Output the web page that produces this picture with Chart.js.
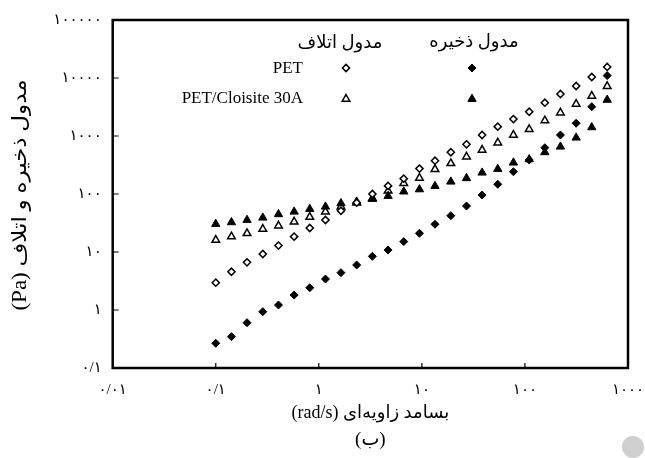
<!DOCTYPE html>
<html><head><meta charset="utf-8">
<script src="https://cdn.jsdelivr.net/npm/chart.js@4/dist/chart.umd.min.js"></script>
<style>html,body{margin:0;padding:0;background:#fff}#c{display:block}</style>
</head><body>
<canvas id="c" width="645" height="458"></canvas>
<script>
// angular frequency (rad/s)
const freq = [0.1, 0.142, 0.201, 0.286, 0.406, 0.576, 0.817, 1.16, 1.64, 2.33, 3.31, 4.7, 6.67, 9.47, 13.4, 19.1, 27.1, 38.4, 54.5, 77.3, 110, 156, 221, 314, 445, 628];
// PET storage modulus (filled diamonds)
const petStorage = [0.267, 0.347, 0.604, 0.935, 1.22, 1.81, 2.42, 3.42, 4.40, 5.97, 8.43, 10.8, 15.1, 21.0, 30.1, 42.3, 62.1, 96.1, 147, 242, 386, 628, 1040, 1660, 3200, 11000];
// PET loss modulus (open diamonds)
const petLoss = [2.96, 4.57, 6.64, 9.24, 12.9, 18.4, 25.9, 35.6, 51.5, 70.8, 100, 138, 184, 274, 375, 524, 719, 1040, 1450, 1960, 2620, 3750, 5300, 7280, 10400, 15500];
// PET/Cloisite 30A storage modulus (filled triangles)
const compStorage = [30.4, 32.5, 35.6, 39.0, 44.7, 49.5, 55.1, 60.4, 69.2, 73.6, 82.0, 92.4, 110, 120, 137, 163, 187, 233, 270, 347, 396, 524, 654, 935, 1410, 4200];
// PET/Cloisite 30A loss modulus (open triangles)
const compLoss = [16.1, 18.4, 21.0, 24.9, 28.4, 33.3, 40.1, 49.5, 60.4, 70.8, 84.3, 113, 153, 189, 267, 338, 440, 574, 766, 1040, 1310, 1840, 2520, 3560, 4900, 7200];

const xTicks = [0.01, 0.1, 1, 10, 100, 1000];
const xTickLabels = ['۰/۰۱', '۰/۱', '۱', '۱۰', '۱۰۰', '۱۰۰۰'];
const yTicks = [0.1, 1, 10, 100, 1000, 10000, 100000];
const yTickLabels = ['۰/۱', '۱', '۱۰', '۱۰۰', '۱۰۰۰', '۱۰۰۰۰', '۱۰۰۰۰۰'];
const seriesNames = ['PET', 'PET/Cloisite 30A'];
const legendHeads = ['مدول ذخیره', 'مدول اتلاف'];
const xTitle = 'بسامد زاویه‌ای (rad/s)';
const yTitle = 'مدول ذخیره و اتلاف (Pa)';
const caption = '(ب)';

const FONT = "'Liberation Serif', 'DejaVu Sans', serif";
const toXY = arr => arr.map((v, i) => ({x: freq[i], y: v}));

const decor = {
  id: 'decor',
  afterDraw(chart) {
    const {ctx, chartArea: a, scales: {x, y}} = chart;
    const H = Chart.helpers;
    ctx.save();
    // frame
    ctx.strokeStyle = '#000';
    ctx.lineWidth = 2.5;
    ctx.strokeRect(a.left, a.top, a.right - a.left, a.bottom - a.top);
    // inward ticks
    ctx.lineWidth = 1.2;
    ctx.beginPath();
    xTicks.slice(1, -1).forEach(v => {
      const px = x.getPixelForValue(v);
      ctx.moveTo(px, a.bottom); ctx.lineTo(px, a.bottom - 5);
    });
    yTicks.slice(1, -1).forEach(v => {
      const py = y.getPixelForValue(v);
      ctx.moveTo(a.left, py); ctx.lineTo(a.left + 6, py);
    });
    ctx.stroke();

    // titles
    ctx.fillStyle = '#000';
    ctx.direction = 'rtl';
    ctx.textAlign = 'center';
    ctx.textBaseline = 'middle';
    ctx.font = '18px ' + FONT;
    const cx = (a.left + a.right) / 2;
    ctx.fillText(xTitle, cx, 413);
    ctx.font = '19px ' + FONT;
    ctx.fillText(caption, cx, 440);
    ctx.save();
    ctx.translate(21, (a.top + a.bottom) / 2 + 1);
    ctx.rotate(-Math.PI / 2);
    ctx.scale(1.15, 1);
    ctx.font = '20px ' + FONT;
    ctx.fillText(yTitle, 0, 0);
    ctx.restore();

    // legend
    const colS = 472, colL = 346;
    ctx.font = '18px ' + FONT;
    ctx.fillText(legendHeads[0], colS + 2, 42);
    ctx.fillText(legendHeads[1], colL - 6, 43);
    ctx.direction = 'ltr';
    ctx.textAlign = 'right';
    ctx.font = '17px ' + FONT;
    ctx.fillText(seriesNames[0], 303, 69);
    ctx.fillText(seriesNames[1], 303, 99);
    const ds = chart.data.datasets;
    const mk = (d, px, py) => {
      ctx.fillStyle = d.pointBackgroundColor;
      ctx.strokeStyle = d.pointBorderColor;
      ctx.lineWidth = d.pointBorderWidth;
      H.drawPoint(ctx, {pointStyle: d.pointStyle, radius: d.pointRadius, borderWidth: d.pointBorderWidth, rotation: 0}, px, py);
    };
    mk(ds[1], colL, 68);
    mk(ds[0], colS, 68);
    mk(ds[3], colL, 99);
    mk(ds[2], colS, 99);

    // grey dot bottom-right
    ctx.fillStyle = '#cfcfcf';
    ctx.beginPath();
    ctx.arc(633, 447, 11, 0, Math.PI * 2);
    ctx.fill();
    ctx.restore();
  }
};

new Chart(document.getElementById('c'), {
  type: 'scatter',
  data: {
    datasets: [
      {label: 'PET storage', data: toXY(petStorage), pointStyle: 'rectRot', pointRadius: 4, pointBackgroundColor: '#000', pointBorderColor: '#000', pointBorderWidth: 1},
      {label: 'PET loss', data: toXY(petLoss), pointStyle: 'rectRot', pointRadius: 3.6, pointBackgroundColor: '#fff', pointBorderColor: '#000', pointBorderWidth: 1.5},
      {label: 'PET/C storage', data: toXY(compStorage), pointStyle: 'triangle', pointRadius: 4.8, pointBackgroundColor: '#000', pointBorderColor: '#000', pointBorderWidth: 1},
      {label: 'PET/C loss', data: toXY(compLoss), pointStyle: 'triangle', pointRadius: 4.4, pointBackgroundColor: '#fff', pointBorderColor: '#000', pointBorderWidth: 1.5}
    ]
  },
  options: {
    responsive: false,
    animation: false,
    events: [],
    layout: {padding: {left: 0, right: 17, top: 20, bottom: 0}},
    plugins: {legend: {display: false}, tooltip: {enabled: false}},
    scales: {
      x: {
        type: 'logarithmic', min: 0.01, max: 1000,
        afterBuildTicks: s => { s.ticks = xTicks.map(v => ({value: v})); },
        afterFit: s => { s.height = 90; s.paddingLeft = 0; s.paddingRight = 0; },
        grid: {display: false, drawTicks: false},
        border: {display: false},
        ticks: {autoSkip: false, maxRotation: 0, padding: 13, color: '#000', font: {family: FONT, size: 15},
          callback: (v, i) => xTickLabels[i]}
      },
      y: {
        type: 'logarithmic', min: 0.1, max: 100000,
        afterBuildTicks: s => { s.ticks = yTicks.map(v => ({value: v})); },
        afterFit: s => { s.width = 112.7; s.paddingTop = 0; s.paddingBottom = 0; },
        grid: {display: false, drawTicks: false},
        border: {display: false},
        ticks: {autoSkip: false, padding: 11, color: '#000', font: {family: FONT, size: 15},
          callback: (v, i) => yTickLabels[i]}
      }
    }
  },
  plugins: [decor]
});
</script>
</body></html>
